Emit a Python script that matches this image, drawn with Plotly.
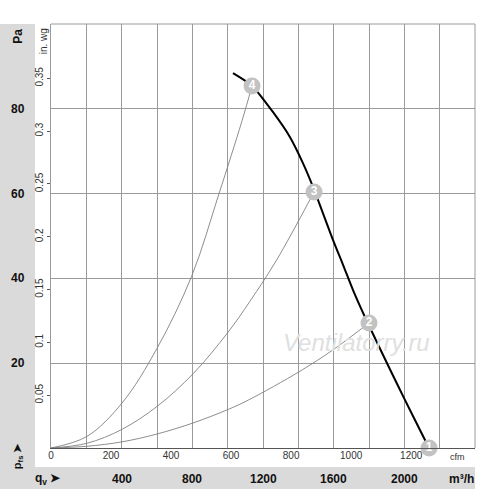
import plotly.graph_objects as go

# === Data ===
# fan characteristic (m³/h, Pa)
fan_q = [1030, 1138, 1257, 1353, 1426, 1483, 1596, 1653, 1709, 1777, 1902, 2004, 2117, 2140]
fan_p = [88.4, 85.4, 79.2, 73.3, 67.2, 61.6, 49.1, 43.2, 37.3, 30.9, 20.0, 11.3, 1.9, 0.0]

# system curves (through origin to operating points 4, 3, 2)
sys4_q = [0, 202, 402, 600, 796, 951, 1080, 1138]
sys4_p = [0, 2.7, 10.6, 23.5, 40.5, 60.0, 77.0, 85.4]
sys3_q = [0, 202, 402, 600, 804, 1002, 1126, 1278, 1489]
sys3_p = [0, 1.1, 4.4, 9.8, 17.5, 27.3, 34.6, 44.4, 60.4]
sys2_q = [0, 202, 402, 600, 804, 1003, 1117, 1409, 1598, 1800]
sys2_p = [0, 0.4, 1.45, 3.3, 5.9, 9.1, 11.3, 18.1, 23.2, 29.5]

# operating points
pt_labels = ["1", "2", "3", "4"]
pt_q = [2140, 1800, 1489, 1138]
pt_p = [0.0, 29.5, 60.4, 85.4]

# axis ticks
qv_ticks = [400, 800, 1200, 1600, 2000]
cfm_ticks = [0, 200, 400, 600, 800, 1000, 1200]
pa_ticks = [20, 40, 60, 80]
inwg_ticks = [0.05, 0.1, 0.15, 0.2, 0.25, 0.3, 0.35]

Q_MAX = 2400      # m³/h
P_MAX = 100       # Pa
M3H_PER_CFM = 1.699
PA_PER_INWG = 249.09

FONT = "Arial, Liberation Sans, sans-serif"
PANEL = "#dadada"
GRID = "#9a9a9a"

fig = go.Figure()

for q, p in [(sys4_q, sys4_p), (sys3_q, sys3_p), (sys2_q, sys2_p)]:
    fig.add_trace(go.Scatter(x=q, y=p, mode="lines",
                             line=dict(color="#808080", width=0.9, shape="spline", smoothing=1.0),
                             hoverinfo="skip", showlegend=False))

fig.add_trace(go.Scatter(x=fan_q, y=fan_p, mode="lines",
                         line=dict(color="black", width=2, shape="spline", smoothing=0.7),
                         showlegend=False))

fig.add_trace(go.Scatter(x=pt_q, y=pt_p, mode="markers+text", text=pt_labels,
                         textposition="middle center",
                         textfont=dict(color="white", size=12, family=FONT, weight="bold"),
                         marker=dict(size=17, color="#c2c2c2"), cliponaxis=False, showlegend=False))

# invisible traces to carry the secondary axes
fig.add_trace(go.Scatter(x=[0], y=[0], xaxis="x2", yaxis="y", mode="markers",
                         marker=dict(opacity=0), showlegend=False, hoverinfo="skip"))
fig.add_trace(go.Scatter(x=[0], y=[0], xaxis="x", yaxis="y2", mode="markers",
                         marker=dict(opacity=0), showlegend=False, hoverinfo="skip"))

# gray L-shaped frame (left column + bottom band)
shapes = [
    dict(type="rect", xref="paper", yref="paper", x0=-0.1203, x1=-0.0377, y0=-0.0967, y1=1.0,
         fillcolor=PANEL, line=dict(width=0), layer="below"),
    dict(type="rect", xref="paper", yref="paper", x0=-0.1203, x1=1.0, y0=-0.0967, y1=-0.0448,
         fillcolor=PANEL, line=dict(width=0), layer="below"),
    dict(type="line", xref="paper", yref="paper", x0=1, x1=1, y0=0, y1=1, line=dict(color=GRID, width=1)),
    dict(type="line", xref="paper", yref="paper", x0=0, x1=1, y0=1, y1=1, line=dict(color=GRID, width=1)),
]

BOLD = dict(size=12, family=FONT, color="#111", weight="bold")


def label(text, x, y, xref="paper", yref="paper", font=BOLD, angle=0):
    return dict(text=text, xref=xref, yref=yref, x=x, y=y, showarrow=False, textangle=angle,
                xanchor="center", yanchor="middle", font=font)


annotations = [label(str(v), -0.078, v, yref="y") for v in pa_ticks]
annotations += [label(str(v), v, -0.073, xref="x") for v in qv_ticks]
annotations += [
    label("m³/h", 0.967, -0.073),
    label("q<sub>v</sub> ➤", -0.007, -0.073),
    label("cfm", 0.959, -0.021, font=dict(size=9, family=FONT, color="#333")),
    label("Pa", -0.078, 0.972, angle=-90),
    label("in. wg", -0.019, 0.959, font=dict(size=10, family=FONT, color="#333"), angle=-90),
    label("p<sub>fs</sub> ➤", -0.078, -0.017, font=dict(size=11, family=FONT, color="#111", weight="bold"),
          angle=-90),
    label("<i>Ventilatorry.ru</i>", 0.72, 0.25, font=dict(size=24, family=FONT, color="#e0e0e0")),
]

fig.update_layout(
    width=500, height=489, autosize=False,
    margin=dict(l=51, r=25, t=24, b=41),
    plot_bgcolor="white", paper_bgcolor="white",
    shapes=shapes, annotations=annotations,
    xaxis=dict(range=[0, Q_MAX], dtick=200, showgrid=True, gridcolor=GRID, gridwidth=1,
               showticklabels=False, ticks="", zeroline=False, automargin=False,
               showline=True, linecolor="#555", linewidth=1),
    xaxis2=dict(range=[0, Q_MAX / M3H_PER_CFM], overlaying="x", side="bottom", anchor="y",
                tickvals=cfm_ticks, showgrid=False, ticks="", zeroline=False, showline=False,
                automargin=False, tickfont=dict(size=10, family=FONT, color="#333")),
    yaxis=dict(range=[0, P_MAX], dtick=20, showgrid=True, gridcolor=GRID, gridwidth=1,
               showticklabels=False, ticks="", zeroline=False, automargin=False,
               showline=True, linecolor=GRID, linewidth=1),
    yaxis2=dict(range=[0, P_MAX / PA_PER_INWG], overlaying="y", side="left", anchor="x",
                tickvals=inwg_ticks, ticktext=[str(v) for v in inwg_ticks], tickangle=-90,
                ticks="outside", ticklen=3, tickcolor="#555", showgrid=False, zeroline=False,
                showline=False, automargin=False, tickfont=dict(size=10, family=FONT, color="#333")),
)

# remove the browser's default page margin so the chart sits at the window corner
fig.write_html("out.html", config={"displayModeBar": False},
               post_script="document.body.style.margin='0px';")
